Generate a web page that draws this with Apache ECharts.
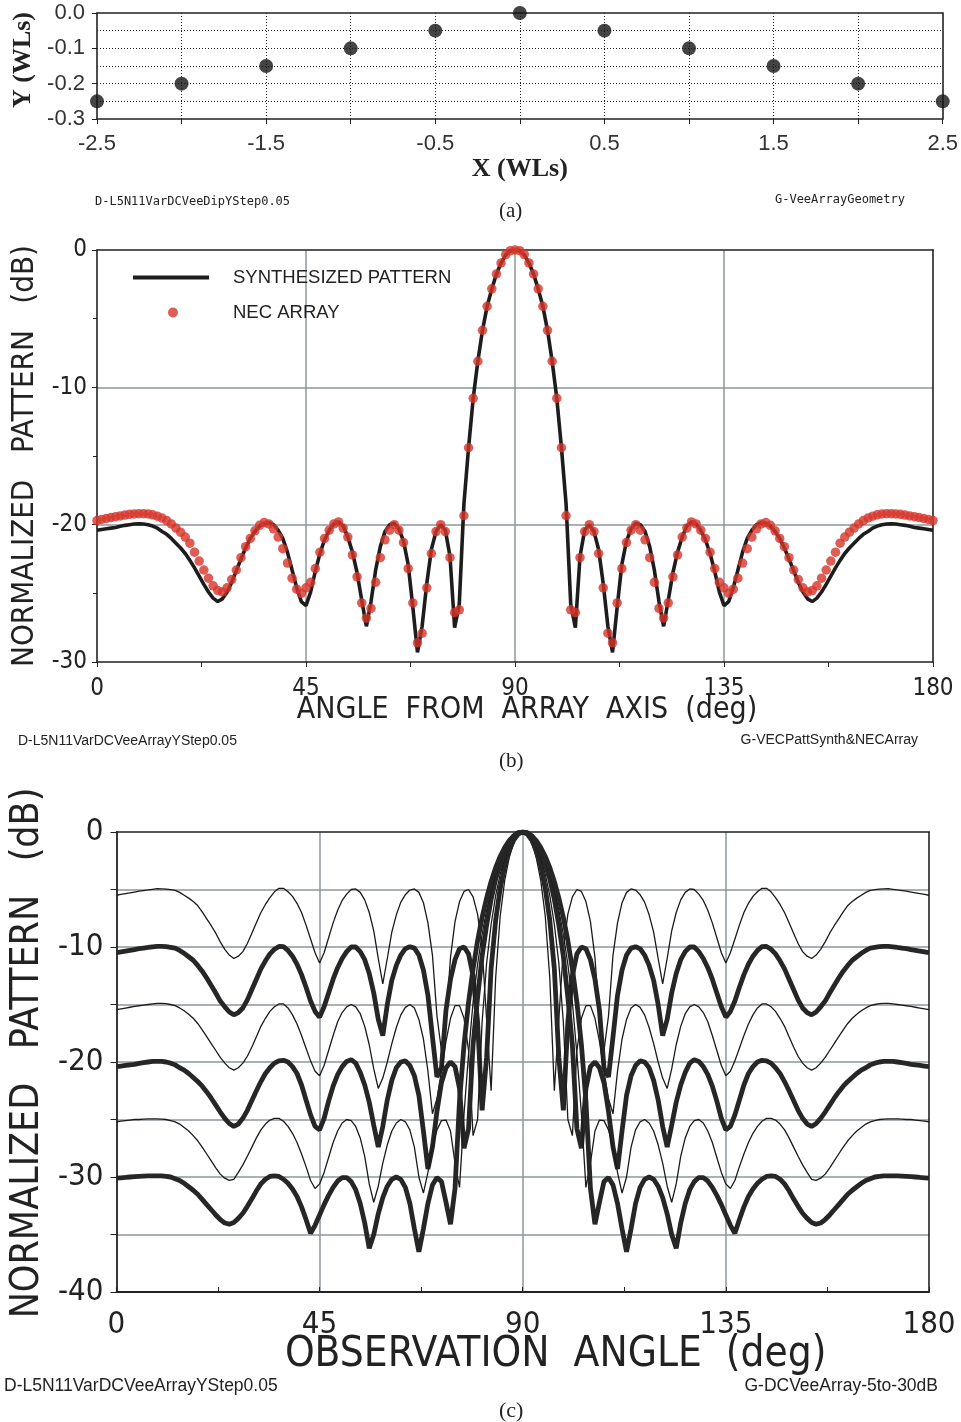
<!DOCTYPE html>
<html><head><meta charset="utf-8">
<script src="https://cdn.jsdelivr.net/npm/echarts@6/dist/echarts.min.js"></script>
<style>html,body{margin:0;padding:0;background:#fff}#c{width:961px;height:1422px}</style>
</head><body><div id="c"></div>
<script>
// ---------- Panel (a): array geometry ----------
const elemX = [-2.5,-2,-1.5,-1,-0.5,0,0.5,1,1.5,2,2.5];
const elemY = [-0.25,-0.2,-0.15,-0.1,-0.05,0,-0.05,-0.1,-0.15,-0.2,-0.25];

// ---------- Angles (deg) shared by panels (b) and (c) ----------
const angles = [];
for (let a = 0; a <= 180; a++) angles.push(a);
const angleTicks = [0,45,90,135,180];

// ---------- Panel (b) ----------
const synthDb = [
-20.4,-20.35,-20.3,-20.25,-20.2,-20.12,-20.05,-20.0,-19.95,-19.94,
-19.95,-20.0,-20.1,-20.25,-20.5,-20.7,-21.0,-21.35,-21.7,-22.1,
-22.6,-23.15,-23.75,-24.35,-24.9,-25.35,-25.6,-25.4,-24.9,-24.2,
-23.35,-22.5,-21.7,-21.0,-20.5,-20.1,-19.9,-19.85,-20.0,-20.4,
-21.0,-22.0,-23.3,-24.6,-25.6,-25.9,-24.9,-23.4,-22.1,-21.1,
-20.4,-19.95,-19.8,-20.1,-20.9,-22.0,-23.5,-25.5,-27.4,-25.6,
-23.3,-21.6,-20.5,-20.0,-19.9,-20.3,-21.2,-22.9,-26.0,-29.3,
-27.4,-24.3,-21.8,-20.5,-20.0,-20.4,-22.3,-27.5,-25.8,-18.5,
-14.4,-10.8,-8.1,-5.85,-4.1,-2.85,-1.75,-0.95,-0.36,-0.06,
0,
-0.06,-0.36,-0.95,-1.75,-2.85,-4.1,-5.85,-8.1,-10.8,-14.4,
-18.5,-25.8,-27.5,-22.3,-20.4,-20.0,-20.5,-21.8,-24.3,-27.4,
-29.3,-26.0,-22.9,-21.2,-20.3,-19.9,-20.0,-20.5,-21.6,-23.3,
-25.6,-27.4,-25.5,-23.5,-22.0,-20.9,-20.1,-19.8,-19.95,-20.4,
-21.1,-22.1,-23.4,-24.9,-25.9,-25.6,-24.6,-23.3,-22.0,-21.0,
-20.4,-20.0,-19.85,-19.9,-20.1,-20.5,-21.0,-21.7,-22.5,-23.35,
-24.2,-24.9,-25.4,-25.6,-25.35,-24.9,-24.35,-23.75,-23.15,-22.6,
-22.1,-21.7,-21.35,-21.0,-20.7,-20.5,-20.25,-20.1,-20.0,-19.95,
-19.94,-19.95,-20.0,-20.05,-20.12,-20.2,-20.25,-20.3,-20.35,-20.4];

const necDb = [
-19.7,-19.62,-19.55,-19.48,-19.42,-19.36,-19.3,-19.25,-19.22,-19.2,
-19.2,-19.22,-19.28,-19.38,-19.52,-19.7,-19.95,-20.25,-20.55,-20.9,
-21.35,-22.0,-22.65,-23.3,-23.9,-24.45,-24.8,-24.9,-24.6,-24.0,
-23.3,-22.4,-21.6,-21.0,-20.45,-20.05,-19.85,-19.95,-20.3,-20.9,
-21.75,-22.8,-23.9,-24.7,-25.0,-24.6,-24.2,-23.2,-22.0,-21.0,
-20.4,-19.95,-19.8,-20.25,-20.9,-22.2,-23.8,-25.7,-26.8,-26.1,
-24.2,-22.4,-21.1,-20.4,-20.0,-20.4,-21.3,-23.2,-25.7,-28.6,
-27.9,-24.6,-22.1,-20.5,-20.0,-20.5,-22.4,-26.4,-26.2,-19.35,
-14.4,-10.8,-8.1,-5.85,-4.1,-2.83,-1.74,-0.94,-0.33,-0.05,
0,
-0.05,-0.33,-0.94,-1.74,-2.83,-4.1,-5.85,-8.1,-10.8,-14.4,
-19.35,-26.2,-26.4,-22.4,-20.5,-20.0,-20.5,-22.1,-24.6,-27.9,
-28.6,-25.7,-23.2,-21.3,-20.4,-20.0,-20.4,-21.1,-22.4,-24.2,
-26.1,-26.8,-25.7,-23.8,-22.2,-20.9,-20.25,-19.8,-19.95,-20.4,
-21.0,-22.0,-23.2,-24.2,-24.6,-25.0,-24.7,-23.9,-22.8,-21.75,
-20.9,-20.3,-19.95,-19.85,-20.05,-20.45,-21.0,-21.6,-22.4,-23.3,
-24.0,-24.6,-24.9,-24.8,-24.45,-23.9,-23.3,-22.65,-22.0,-21.35,
-20.9,-20.55,-20.25,-19.95,-19.7,-19.52,-19.38,-19.28,-19.22,-19.2,
-19.2,-19.22,-19.25,-19.3,-19.36,-19.42,-19.48,-19.55,-19.62,-19.7];

// ---------- Panel (c): sidelobe levels -5 ... -30 dB ----------
const sll5 = [
-5.5,-5.43,-5.36,-5.29,-5.22,-5.15,-5.09,-5.04,-4.98,-4.93,
-4.94,-4.97,-5.02,-5.07,-5.25,-5.5,-5.75,-6.05,-6.4,-6.95,
-7.55,-8.15,-8.8,-9.55,-10.2,-10.7,-11.0,-10.8,-10.4,-9.7,
-8.8,-7.9,-7.0,-6.3,-5.7,-5.2,-4.9,-4.9,-5.2,-5.6,
-6.2,-7.0,-8.1,-9.3,-10.5,-11.4,-10.5,-9.2,-7.9,-6.8,
-5.95,-5.4,-5.0,-4.95,-5.25,-5.9,-7.0,-8.6,-11.0,-13.2,
-11.0,-8.7,-7.2,-6.1,-5.45,-5.05,-4.95,-5.25,-6.15,-7.9,
-10.7,-16.0,-19.0,-16.5,-10.9,-7.8,-6.05,-5.17,-5.0,-5.64,
-7.14,-10.1,-16.3,-22.5,-12.7,-7.35,-4.23,-2.23,-0.95,-0.23,
0,
-0.23,-0.95,-2.23,-4.23,-7.35,-12.7,-22.5,-16.3,-10.1,-7.14,
-5.64,-5.0,-5.17,-6.05,-7.8,-10.9,-16.5,-19.0,-16.0,-10.7,
-7.9,-6.15,-5.25,-4.95,-5.05,-5.45,-6.1,-7.2,-8.7,-11.0,
-13.2,-11.0,-8.6,-7.0,-5.9,-5.25,-4.95,-5.0,-5.4,-5.95,
-6.8,-7.9,-9.2,-10.5,-11.4,-10.5,-9.3,-8.1,-7.0,-6.2,
-5.6,-5.2,-4.9,-4.9,-5.2,-5.7,-6.3,-7.0,-7.9,-8.8,
-9.7,-10.4,-10.8,-11.0,-10.7,-10.2,-9.55,-8.8,-8.15,-7.55,
-6.95,-6.4,-6.05,-5.75,-5.5,-5.25,-5.07,-5.02,-4.97,-4.94,
-4.93,-4.98,-5.04,-5.09,-5.15,-5.22,-5.29,-5.36,-5.43,-5.5];

const sll10 = [
-10.5,-10.43,-10.36,-10.29,-10.22,-10.15,-10.09,-10.04,-9.98,-9.94,
-9.94,-9.97,-10.03,-10.1,-10.3,-10.55,-10.85,-11.15,-11.6,-12.1,
-12.7,-13.35,-14.0,-14.7,-15.2,-15.65,-15.9,-15.7,-15.3,-14.6,
-13.7,-12.8,-11.9,-11.2,-10.6,-10.2,-9.95,-9.97,-10.3,-10.8,
-11.5,-12.4,-13.5,-14.7,-15.6,-16.1,-15.2,-14.0,-12.8,-11.8,
-11.0,-10.4,-10.0,-10.0,-10.4,-11.1,-12.3,-14.0,-16.3,-17.7,
-15.0,-12.9,-11.6,-10.7,-10.15,-9.97,-10.1,-10.7,-12.0,-14.2,
-17.8,-21.3,-20.5,-15.5,-12.8,-11.1,-10.15,-10.0,-10.6,-12.5,
-16.5,-24.2,-19.6,-11.86,-7.69,-4.93,-2.99,-1.62,-0.7,-0.17,
0,
-0.17,-0.7,-1.62,-2.99,-4.93,-7.69,-11.86,-19.6,-24.2,-16.5,
-12.5,-10.6,-10.0,-10.15,-11.1,-12.8,-15.5,-20.5,-21.3,-17.8,
-14.2,-12.0,-10.7,-10.1,-9.97,-10.15,-10.7,-11.6,-12.9,-15.0,
-17.7,-16.3,-14.0,-12.3,-11.1,-10.4,-10.0,-10.0,-10.4,-11.0,
-11.8,-12.8,-14.0,-15.2,-16.1,-15.6,-14.7,-13.5,-12.4,-11.5,
-10.8,-10.3,-9.97,-9.95,-10.2,-10.6,-11.2,-11.9,-12.8,-13.7,
-14.6,-15.3,-15.7,-15.9,-15.65,-15.2,-14.7,-14.0,-13.35,-12.7,
-12.1,-11.6,-11.15,-10.85,-10.55,-10.3,-10.1,-10.03,-9.97,-9.94,
-9.94,-9.98,-10.04,-10.09,-10.15,-10.22,-10.29,-10.36,-10.43,-10.5];

const sll15 = [
-15.45,-15.38,-15.31,-15.24,-15.17,-15.11,-15.05,-15.0,-14.95,-14.9,
-14.9,-14.93,-15.0,-15.1,-15.3,-15.55,-15.85,-16.2,-16.65,-17.2,
-17.8,-18.4,-19.0,-19.6,-20.1,-20.5,-20.7,-20.5,-20.1,-19.5,
-18.7,-17.8,-16.9,-16.2,-15.6,-15.2,-14.95,-14.95,-15.3,-15.9,
-16.7,-17.7,-18.8,-19.9,-20.8,-21.2,-20.3,-19.0,-17.7,-16.5,
-15.7,-15.2,-15.0,-15.2,-15.8,-16.9,-18.5,-20.6,-22.3,-21.4,
-20.0,-18.4,-17.0,-15.9,-15.25,-15.0,-15.3,-16.3,-18.0,-20.8,
-24.5,-23.2,-20.8,-18.2,-16.2,-15.1,-15.1,-16.2,-19.0,-26.4,
-25.0,-16.55,-11.41,-8.02,-5.54,-3.69,-2.28,-1.26,-0.55,-0.14,
0,
-0.14,-0.55,-1.26,-2.28,-3.69,-5.54,-8.02,-11.41,-16.55,-25.0,
-26.4,-19.0,-16.2,-15.1,-15.1,-16.2,-18.2,-20.8,-23.2,-24.5,
-20.8,-18.0,-16.3,-15.3,-15.0,-15.25,-15.9,-17.0,-18.4,-20.0,
-21.4,-22.3,-20.6,-18.5,-16.9,-15.8,-15.2,-15.0,-15.2,-15.7,
-16.5,-17.7,-19.0,-20.3,-21.2,-20.8,-19.9,-18.8,-17.7,-16.7,
-15.9,-15.3,-14.95,-14.95,-15.2,-15.6,-16.2,-16.9,-17.8,-18.7,
-19.5,-20.1,-20.5,-20.7,-20.5,-20.1,-19.6,-19.0,-18.4,-17.8,
-17.2,-16.65,-16.2,-15.85,-15.55,-15.3,-15.1,-15.0,-14.93,-14.9,
-14.9,-14.95,-15.0,-15.05,-15.11,-15.17,-15.24,-15.31,-15.38,-15.45];

const sll20 = [
-20.4,-20.35,-20.3,-20.25,-20.2,-20.12,-20.05,-20.0,-19.95,-19.94,
-19.95,-20.0,-20.1,-20.25,-20.5,-20.7,-21.0,-21.35,-21.7,-22.1,
-22.6,-23.15,-23.75,-24.35,-24.9,-25.35,-25.6,-25.4,-24.9,-24.2,
-23.35,-22.5,-21.7,-21.0,-20.5,-20.1,-19.9,-19.85,-20.0,-20.4,
-21.0,-22.0,-23.3,-24.6,-25.6,-25.9,-24.9,-23.4,-22.1,-21.1,
-20.4,-19.95,-19.8,-20.1,-20.9,-22.0,-23.5,-25.5,-27.4,-25.6,
-23.3,-21.6,-20.5,-20.0,-19.9,-20.3,-21.2,-22.9,-26.0,-29.3,
-27.4,-24.3,-21.8,-20.5,-20.0,-20.4,-22.3,-27.5,-25.8,-18.5,
-14.4,-10.8,-8.1,-5.85,-4.1,-2.85,-1.75,-0.95,-0.36,-0.06,
0,
-0.06,-0.36,-0.95,-1.75,-2.85,-4.1,-5.85,-8.1,-10.8,-14.4,
-18.5,-25.8,-27.5,-22.3,-20.4,-20.0,-20.5,-21.8,-24.3,-27.4,
-29.3,-26.0,-22.9,-21.2,-20.3,-19.9,-20.0,-20.5,-21.6,-23.3,
-25.6,-27.4,-25.5,-23.5,-22.0,-20.9,-20.1,-19.8,-19.95,-20.4,
-21.1,-22.1,-23.4,-24.9,-25.9,-25.6,-24.6,-23.3,-22.0,-21.0,
-20.4,-20.0,-19.85,-19.9,-20.1,-20.5,-21.0,-21.7,-22.5,-23.35,
-24.2,-24.9,-25.4,-25.6,-25.35,-24.9,-24.35,-23.75,-23.15,-22.6,
-22.1,-21.7,-21.35,-21.0,-20.7,-20.5,-20.25,-20.1,-20.0,-19.95,
-19.94,-19.95,-20.0,-20.05,-20.12,-20.2,-20.25,-20.3,-20.35,-20.4];

const sll25 = [
-25.2,-25.15,-25.1,-25.05,-25.0,-25.0,-24.97,-24.95,-24.95,-24.95,
-24.97,-25.0,-25.1,-25.2,-25.4,-25.7,-26.0,-26.4,-26.85,-27.4,
-28.0,-28.6,-29.2,-29.75,-30.1,-30.3,-30.2,-29.6,-28.95,-28.2,
-27.4,-26.6,-25.9,-25.4,-25.05,-24.9,-24.9,-25.15,-25.6,-26.2,
-27.0,-28.0,-29.1,-30.3,-31.0,-30.6,-29.6,-28.3,-27.0,-26.0,
-25.3,-25.0,-25.1,-25.6,-26.6,-28.2,-30.6,-32.2,-30.8,-28.8,
-27.2,-26.0,-25.3,-25.0,-25.2,-25.9,-27.4,-30.0,-31.4,-29.6,
-27.4,-25.9,-25.1,-25.05,-26.0,-28.8,-30.9,-24.5,-19.3,-14.8,
-11.5,-8.9,-6.8,-5.05,-3.63,-2.47,-1.56,-0.87,-0.39,-0.1,
0,
-0.1,-0.39,-0.87,-1.56,-2.47,-3.63,-5.05,-6.8,-8.9,-11.5,
-14.8,-19.3,-24.5,-30.9,-28.8,-26.0,-25.05,-25.1,-25.9,-27.4,
-29.6,-31.4,-30.0,-27.4,-25.9,-25.2,-25.0,-25.3,-26.0,-27.2,
-28.8,-30.8,-32.2,-30.6,-28.2,-26.6,-25.6,-25.1,-25.0,-25.3,
-26.0,-27.0,-28.3,-29.6,-30.6,-31.0,-30.3,-29.1,-28.0,-27.0,
-26.2,-25.6,-25.15,-24.9,-24.9,-25.05,-25.4,-25.9,-26.6,-27.4,
-28.2,-28.95,-29.6,-30.2,-30.3,-30.1,-29.75,-29.2,-28.6,-28.0,
-27.4,-26.85,-26.4,-26.0,-25.7,-25.4,-25.2,-25.1,-25.0,-24.97,
-24.95,-24.95,-24.95,-24.97,-25.0,-25.0,-25.05,-25.1,-25.15,-25.2];

const sll30 = [
-30.1,-30.07,-30.04,-30.0,-29.97,-29.94,-29.92,-29.9,-29.9,-29.9,
-29.9,-29.95,-30.0,-30.15,-30.3,-30.55,-30.85,-31.15,-31.5,-31.95,
-32.4,-32.85,-33.3,-33.7,-34.0,-34.1,-33.95,-33.6,-33.15,-32.55,
-31.9,-31.2,-30.6,-30.2,-29.95,-29.9,-29.95,-30.2,-30.55,-31.05,
-31.7,-32.6,-33.7,-34.9,-34.2,-33.3,-32.4,-31.6,-30.9,-30.35,
-30.05,-30.05,-30.4,-31.1,-32.3,-34.0,-36.2,-35.0,-33.2,-31.8,
-30.8,-30.2,-30.0,-30.2,-30.9,-32.3,-34.5,-36.5,-34.5,-32.3,
-30.7,-30.05,-30.4,-32.2,-34.1,-31.0,-23.4,-18.5,-14.8,-11.9,
-9.46,-7.44,-5.74,-4.3,-3.11,-2.13,-1.35,-0.75,-0.33,-0.08,
0,
-0.08,-0.33,-0.75,-1.35,-2.13,-3.11,-4.3,-5.74,-7.44,-9.46,
-11.9,-14.8,-18.5,-23.4,-31.0,-34.1,-32.2,-30.4,-30.05,-30.7,
-32.3,-34.5,-36.5,-34.5,-32.3,-30.9,-30.2,-30.0,-30.2,-30.8,
-31.8,-33.2,-35.0,-36.2,-34.0,-32.3,-31.1,-30.4,-30.05,-30.05,
-30.35,-30.9,-31.6,-32.4,-33.3,-34.2,-34.9,-33.7,-32.6,-31.7,
-31.05,-30.55,-30.2,-29.95,-29.9,-29.95,-30.2,-30.6,-31.2,-31.9,
-32.55,-33.15,-33.6,-33.95,-34.1,-34.0,-33.7,-33.3,-32.85,-32.4,
-31.95,-31.5,-31.15,-30.85,-30.55,-30.3,-30.15,-30.0,-29.95,-29.9,
-29.9,-29.9,-29.9,-29.92,-29.94,-29.97,-30.0,-30.04,-30.07,-30.1];

// ---------- rendering ----------
const NARROW = "'Liberation Sans Narrow','DejaVu Sans Condensed','Roboto Condensed','Liberation Sans',sans-serif";
const SANS = "'Liberation Sans','DejaVu Sans',sans-serif";
const SERIF = "'Liberation Serif','DejaVu Serif',serif";
const INK = '#222';
const GRID_GRAY = '#8e979c';

const pairs = (vals) => angles.map((a, i) => [a, vals[i]]);

const dotted = { type: [1, 2], color: INK, width: 1 };
const frameAxis = (gridIndex, pos, min, max) => ({
  gridIndex, type: 'value', position: pos, min, max,
  axisLine: { show: true, onZero: false, lineStyle: { color: INK, width: 1.6 } },
  axisTick: { show: false }, axisLabel: { show: false }, splitLine: { show: false }
});

const chart = echarts.init(document.getElementById('c'), null, { renderer: 'canvas' });

const option = {
  animation: false,
  backgroundColor: '#fff',
  grid: [
    { left: 97, top: 13, width: 846, height: 106 },
    { left: 97, top: 250, width: 836, height: 412 },
    { left: 113, top: 832, width: 816, height: 460 }
  ],
  legend: [
    { data: [{ name: 'SYNTHESIZED PATTERN', icon: 'rect' }], left: 133, top: 268, padding: 0, itemWidth: 76, itemHeight: 4,
      selectedMode: false, textStyle: { fontSize: 18.5, fontFamily: SANS, color: INK, padding: [0, 0, 0, 19] } },
    { data: [{ name: 'NEC ARRAY', icon: 'circle' }], left: 168, top: 303, padding: 0, itemWidth: 76, itemHeight: 10,
      selectedMode: false, textStyle: { fontSize: 18.5, fontFamily: SANS, color: INK, padding: [0, 0, 0, 17] } }
  ],
  xAxis: [
    { gridIndex: 0, type: 'value', min: -2.5, max: 2.5, interval: 1,
      axisLine: { show: true, onZero: false, lineStyle: { color: INK, width: 1.6 } },
      axisTick: { show: true, length: 5, lineStyle: { color: INK } },
      minorTick: { show: true, splitNumber: 2, length: 5, lineStyle: { color: INK } },
      splitLine: { show: true, showMinLine: false, showMaxLine: false, lineStyle: dotted },
      minorSplitLine: { show: true, lineStyle: dotted },
      axisLabel: { fontSize: 22, color: '#333', margin: 14, fontFamily: SANS, formatter: v => v.toFixed(1) },
      name: 'X (WLs)', nameLocation: 'middle', nameGap: 32,
      nameTextStyle: { fontFamily: SERIF, fontWeight: 'bold', fontSize: 26, color: INK } },
    { gridIndex: 1, type: 'value', min: 0, max: 180, interval: 45,
      axisLine: { show: true, onZero: false, lineStyle: { color: INK, width: 1.6 } },
      axisTick: { show: true, length: 5, lineStyle: { color: INK } },
      minorTick: { show: true, splitNumber: 2, length: 5, lineStyle: { color: INK } },
      splitLine: { show: true, showMinLine: false, showMaxLine: false, lineStyle: { color: GRID_GRAY, width: 1.5 } },
      axisLabel: { fontSize: 24, color: INK, margin: 15, fontFamily: NARROW },
      name: 'ANGLE  FROM  ARRAY  AXIS  (deg)', nameLocation: 'middle', nameGap: 33, nameMoveOverlap: false,
      nameTextStyle: { fontFamily: NARROW, fontSize: 30, color: INK, padding: [0, 0, 0, 24] } },
    { gridIndex: 2, type: 'value', min: 0, max: 180, interval: 45,
      axisLine: { show: true, onZero: false, lineStyle: { color: INK, width: 1.8 } },
      axisTick: { show: true, length: 5, inside: true, lineStyle: { color: INK } },
      minorTick: { show: true, splitNumber: 2, length: 5, lineStyle: { color: INK } },
      splitLine: { show: true, showMinLine: false, showMaxLine: false, lineStyle: { color: GRID_GRAY, width: 1.5 } },
      axisLabel: { fontSize: 31, color: INK, margin: 17, fontFamily: NARROW },
      name: 'OBSERVATION  ANGLE  (deg)', nameLocation: 'middle', nameGap: 42, nameMoveOverlap: false,
      nameTextStyle: { fontFamily: NARROW, fontSize: 42, color: INK, padding: [0, 0, 0, 66] } },
    frameAxis(0, 'top', -2.5, 2.5),
    frameAxis(1, 'top', 0, 180),
    frameAxis(2, 'top', 0, 180)
  ],
  yAxis: [
    { gridIndex: 0, type: 'value', min: -0.3, max: 0, interval: 0.1,
      axisLine: { show: true, onZero: false, lineStyle: { color: INK, width: 1.6 } },
      axisTick: { show: true, length: 5, lineStyle: { color: INK } },
      minorTick: { show: false, splitNumber: 2 },
      splitLine: { show: true, showMinLine: false, showMaxLine: false, lineStyle: dotted },
      minorSplitLine: { show: true, lineStyle: dotted },
      axisLabel: { fontSize: 22, color: '#333', margin: 12, fontFamily: SANS, formatter: v => (Math.abs(v) < 1e-9 ? 0 : v).toFixed(1) },
      name: 'Y (WLs)', nameLocation: 'middle', nameGap: 58, nameRotate: 90,
      nameTextStyle: { fontFamily: SERIF, fontWeight: 'bold', fontSize: 26, color: INK, padding: [0, 0, 0, 12] } },
    { gridIndex: 1, type: 'value', min: -30, max: 0, interval: 10,
      axisLine: { show: true, onZero: false, lineStyle: { color: INK, width: 1.6 } },
      axisTick: { show: true, length: 5, lineStyle: { color: INK } },
      minorTick: { show: true, splitNumber: 2, length: 4, lineStyle: { color: INK } },
      splitLine: { show: true, showMinLine: false, showMaxLine: false, lineStyle: { color: GRID_GRAY, width: 1.5 } },
      axisLabel: { fontSize: 24, color: INK, margin: 10, fontFamily: NARROW },
      name: 'NORMALIZED   PATTERN   (dB)', nameLocation: 'middle', nameGap: 43, nameRotate: 90,
      nameTextStyle: { fontFamily: NARROW, fontSize: 31, color: INK } },
    { gridIndex: 2, type: 'value', min: -40, max: 0, interval: 10,
      axisLine: { show: true, onZero: false, lineStyle: { color: INK, width: 1.8 } },
      axisTick: { show: true, length: 6, lineStyle: { color: INK } },
      minorTick: { show: true, splitNumber: 2, length: 6, lineStyle: { color: INK } },
      splitLine: { show: true, showMinLine: false, showMaxLine: false, lineStyle: { color: GRID_GRAY, width: 1.5 } },
      minorSplitLine: { show: true, lineStyle: { color: GRID_GRAY, width: 1.5 } },
      axisLabel: { fontSize: 31, color: INK, margin: 13, fontFamily: NARROW },
      name: 'NORMALIZED   PATTERN   (dB)', nameLocation: 'middle', nameGap: 56, nameRotate: 90,
      nameTextStyle: { fontFamily: NARROW, fontSize: 39, color: INK, padding: [0, 0, 0, 18] } },
    frameAxis(0, 'right', -0.3, 0),
    frameAxis(1, 'right', -30, 0),
    frameAxis(2, 'right', -40, 0)
  ],
  series: [
    { type: 'scatter', xAxisIndex: 0, yAxisIndex: 0, symbolSize: 14, itemStyle: { color: '#151515' },
      data: elemX.map((x, i) => [x, elemY[i]]) },
    { name: 'SYNTHESIZED PATTERN', type: 'line', xAxisIndex: 1, yAxisIndex: 1, showSymbol: false,
      lineStyle: { color: '#1d1d1d', width: 3.6 }, itemStyle: { color: '#1d1d1d' }, data: pairs(synthDb), z: 3 },
    { name: 'NEC ARRAY', type: 'scatter', xAxisIndex: 1, yAxisIndex: 1, symbolSize: 9.5,
      itemStyle: { color: '#d6362a' }, data: pairs(necDb), z: 4 },
    { name: '-5 dB', type: 'line', xAxisIndex: 2, yAxisIndex: 2, showSymbol: false, lineStyle: { color: '#1a1a1a', width: 1.3 }, data: pairs(sll5) },
    { name: '-10 dB', type: 'line', xAxisIndex: 2, yAxisIndex: 2, showSymbol: false, lineStyle: { color: '#262626', width: 4.8 }, data: pairs(sll10) },
    { name: '-15 dB', type: 'line', xAxisIndex: 2, yAxisIndex: 2, showSymbol: false, lineStyle: { color: '#1a1a1a', width: 1.3 }, data: pairs(sll15) },
    { name: '-20 dB', type: 'line', xAxisIndex: 2, yAxisIndex: 2, showSymbol: false, lineStyle: { color: '#262626', width: 4.8 }, data: pairs(sll20) },
    { name: '-25 dB', type: 'line', xAxisIndex: 2, yAxisIndex: 2, showSymbol: false, lineStyle: { color: '#1a1a1a', width: 1.3 }, data: pairs(sll25) },
    { name: '-30 dB', type: 'line', xAxisIndex: 2, yAxisIndex: 2, showSymbol: false, lineStyle: { color: '#262626', width: 4.8 }, data: pairs(sll30) }
  ],
  graphic: [
    { type: 'text', left: 95, top: 196, style: { text: 'D-L5N11VarDCVeeDipYStep0.05', fontSize: 12, fontFamily: "'DejaVu Sans Mono',monospace", fill: INK } },
    { type: 'text', right: 56, top: 194, style: { text: 'G-VeeArrayGeometry', fontSize: 12, fontFamily: "'DejaVu Sans Mono',monospace", fill: INK } },
    { type: 'text', left: 499, top: 201, style: { text: '(a)', fontSize: 21, fontFamily: SERIF, fill: INK } },
    { type: 'text', left: 18, top: 734, style: { text: 'D-L5N11VarDCVeeArrayYStep0.05', fontSize: 14, fontFamily: SANS, fill: INK } },
    { type: 'text', right: 43, top: 733, style: { text: 'G-VECPattSynth&NECArray', fontSize: 14, fontFamily: SANS, fill: INK } },
    { type: 'text', left: 499, top: 751, style: { text: '(b)', fontSize: 21, fontFamily: SERIF, fill: INK } },
    { type: 'text', left: 4, top: 1377, style: { text: 'D-L5N11VarDCVeeArrayYStep0.05', fontSize: 17.5, fontFamily: SANS, fill: INK } },
    { type: 'text', right: 23, top: 1377, style: { text: 'G-DCVeeArray-5to-30dB', fontSize: 17.5, fontFamily: SANS, fill: INK } },
    { type: 'text', left: 499, top: 1400, style: { text: '(c)', fontSize: 22, fontFamily: SERIF, fill: INK } }
  ]
};
chart.setOption(option);
</script>
</body></html>
